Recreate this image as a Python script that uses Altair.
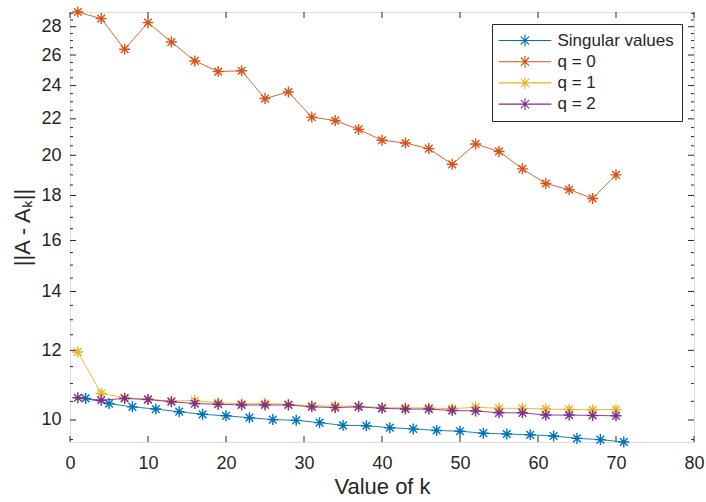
import altair as alt
import pandas as pd

# ---------------- data ----------------
k_sv = [2, 5, 8, 11, 14, 17, 20, 23, 26, 29, 32, 35, 38, 41, 44, 47, 50, 53, 56, 59, 62, 65, 68, 71]
k_q = [1, 4, 7, 10, 13, 16, 19, 22, 25, 28, 31, 34, 37, 40, 43, 46, 49, 52, 55, 58, 61, 64, 67, 70]

singular_values = [10.58, 10.44, 10.35, 10.29, 10.22, 10.15, 10.11, 10.06, 10.01, 9.99, 9.93, 9.86,
                   9.85, 9.80, 9.77, 9.73, 9.71, 9.66, 9.64, 9.62, 9.59, 9.53, 9.50, 9.44]
q0 = [29.1, 28.6, 26.4, 28.3, 26.9, 25.6, 24.9, 24.95, 23.2, 23.6, 22.1, 21.9,
      21.4, 20.8, 20.65, 20.35, 19.53, 20.6, 20.2, 19.3, 18.57, 18.28, 17.86, 19.0]
q1 = [11.95, 10.72, 10.60, 10.56, 10.51, 10.52, 10.46, 10.43, 10.44, 10.42, 10.38, 10.37,
      10.37, 10.33, 10.32, 10.32, 10.30, 10.34, 10.31, 10.31, 10.29, 10.28, 10.27, 10.28]
q2 = [10.60, 10.53, 10.58, 10.55, 10.49, 10.44, 10.42, 10.40, 10.40, 10.40, 10.35, 10.33,
      10.35, 10.31, 10.29, 10.29, 10.25, 10.24, 10.19, 10.19, 10.13, 10.13, 10.12, 10.11]

series_names = ["Singular values", "q = 0", "q = 1", "q = 2"]
series_colors = ["#0072BD", "#D95319", "#EDB120", "#7E2F8E"]

x_ticks = [0, 10, 20, 30, 40, 50, 60, 70, 80]
y_ticks = [10, 12, 14, 16, 18, 20, 22, 24, 26, 28]
y_minor = [9.5, 10.5, 11, 11.5, 12.5, 13, 13.5, 14.5, 15, 15.5, 16.5, 17, 17.5, 18.5, 19, 19.5,
           20.5, 21, 21.5, 22.5, 23, 23.5, 24.5, 25, 25.5, 26.5, 27, 27.5, 28.5, 29]

# ---------------- table ----------------
rows = []
for name, ks, vs in zip(series_names, [k_sv, k_q, k_q, k_q], [singular_values, q0, q1, q2]):
    for k, v in zip(ks, vs):
        rows.append({"series": name, "k": k, "value": v})
df = pd.DataFrame(rows)

all_vals = singular_values + q0 + q1 + q2
ymin, ymax = min(all_vals), max(all_vals)

W, H = 624, 430
FONT = "Liberation Sans"
AXC = "#262626"

x_scale = alt.Scale(domain=[0, 80], nice=False, zero=False)
y_scale = alt.Scale(type="log", domain=[ymin, ymax], nice=False)

x_axis = alt.Axis(values=x_ticks, tickSize=0, domain=False, grid=False, labelFontSize=18,
                  labelPadding=12, labelColor=AXC, labelFont=FONT, labelFlush=False,
                  titleFont=FONT, titleFontSize=22, titleFontWeight="normal", titleColor=AXC,
                  titlePadding=4, format="d")
y_axis = alt.Axis(values=y_ticks, tickSize=0, domain=False, grid=False, labelFontSize=18,
                  labelPadding=9, labelColor=AXC, labelFont=FONT, format="d",
                  titleFont=FONT, titleFontSize=22, titleFontWeight="normal", titleColor=AXC,
                  titlePadding=6)

def X():
    return alt.X("k:Q", scale=x_scale, axis=x_axis, title="Value of k")

def Y():
    return alt.Y("value:Q", scale=y_scale, axis=y_axis, title="||A - A\u2096||")

star = "M-1,0L1,0M0,-1L0,1M-0.7,-0.7L0.7,0.7M-0.7,0.7L0.7,-0.7"
legend_sym = "M-4.4,0L4.4,0" + star

legend = alt.Legend(title=" ", titleOrient="right", titlePadding=0, titleFontSize=4,
                    orient="none", legendX=422, legendY=12, direction="vertical",
                    symbolType=legend_sym, symbolSize=144, symbolStrokeWidth=1.1,
                    labelFont=FONT, labelFontSize=17, labelColor=AXC, padding=8, rowPadding=3.2,
                    symbolOffset=16.5, labelOffset=24, strokeColor=AXC, fillColor="white",
                    cornerRadius=0)

color = alt.Color("series:N", scale=alt.Scale(domain=series_names, range=series_colors),
                  legend=legend)

base = alt.Chart(df)
layers = []
for name in series_names:
    sub = base.transform_filter(alt.datum.series == name)
    layers.append(sub.mark_line(strokeWidth=0.9).encode(x=X(), y=Y(), color=color))
    layers.append(sub.mark_point(shape=star, filled=False, size=121, strokeWidth=1.4,
                                 opacity=1).encode(x=X(), y=Y(), color=color))

# inward ticks (MATLAB box style)
ymaj = pd.DataFrame({"value": y_ticks})
ymin_df = pd.DataFrame({"value": y_minor})
xmaj = pd.DataFrame({"k": x_ticks})

def yrule(d, x0, x1):
    return alt.Chart(d).mark_rule(color=AXC, strokeWidth=1, clip=True).encode(
        y=Y(), x=alt.value(x0), x2=alt.value(x1))

def xrule(y0, y1):
    return alt.Chart(xmaj).mark_rule(color=AXC, strokeWidth=1).encode(
        x=X(), y=alt.value(y0), y2=alt.value(y1))

ticks = [
    yrule(ymaj, 0, 6), yrule(ymaj, W - 6, W),
    yrule(ymin_df, 0, 3), yrule(ymin_df, W - 3, W),
    xrule(0, 6), xrule(H - 6, H),
]

chart = alt.layer(*ticks, *layers).properties(
    width=W, height=H,
    autosize=alt.AutoSizeParams(type="none"),
    padding={"left": 70, "top": 12, "right": 12, "bottom": 60},
).configure_view(stroke=AXC, strokeWidth=1).configure(background="white")

chart.save("out.html", embed_options={"renderer": "svg", "actions": False})
